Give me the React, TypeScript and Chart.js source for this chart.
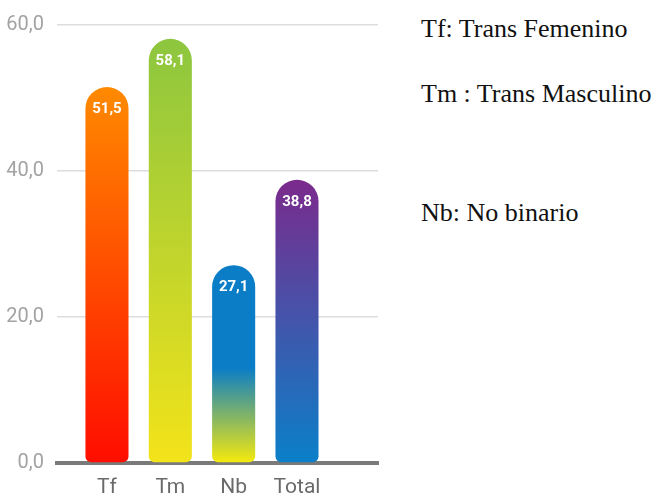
import React, { useEffect, useRef } from "react";
import { Chart, registerables } from "chart.js";

Chart.register(...registerables);

const categories = ["Tf", "Tm", "Nb", "Total"];
const values = [51.5, 58.1, 27.1, 38.8];
const yMin = 0;
const yMax = 60;
const yStep = 20;
const legendLines = ["Tf: Trans Femenino", "Tm : Trans Masculino", "Nb: No binario"];

const barGradients: [number, string][][] = [
  [[0, "#ff8a00"], [1, "#ff0d00"]],
  [[0, "#8cc63f"], [1, "#f3e31a"]],
  [[0, "#0a7dc6"], [0.52, "#0a7dc6"], [1, "#f6ea0c"]],
  [[0, "#7b2a8c"], [1, "#0a80c9"]],
];

const fmt = (v: number) => v.toFixed(1).replace(".", ",");

const valueLabels = {
  id: "valueLabels",
  afterDatasetsDraw(chart: any) {
    const { ctx } = chart;
    const meta = chart.getDatasetMeta(0);
    ctx.save();
    ctx.font = "bold 15px Roboto";
    ctx.fillStyle = "#ffffff";
    ctx.textAlign = "center";
    ctx.textBaseline = "middle";
    meta.data.forEach((el: any, i: number) => {
      ctx.fillText(fmt(values[i]), el.x, el.y + 22);
    });
    ctx.restore();
  },
};

export default function App() {
  const ref = useRef<HTMLCanvasElement | null>(null);

  useEffect(() => {
    if (!ref.current) return;
    const chart = new Chart(ref.current, {
      type: "bar",
      data: {
        datasets: [
          {
            data: values.map((v, i) => ({ x: i, y: v })),
            barPercentage: 0.68,
            categoryPercentage: 1,
            borderSkipped: false,
            borderWidth: 0,
            borderRadius: { topLeft: 22, topRight: 22, bottomLeft: 6, bottomRight: 6 },
            backgroundColor: (c: any) => {
              const stops = barGradients[c.dataIndex] || barGradients[0];
              if (c.type !== "data" || !c.chart.chartArea) return stops[0][1];
              const y = c.chart.scales.y;
              const top = y.getPixelForValue(values[c.dataIndex]);
              const bot = y.getPixelForValue(0);
              const g = c.chart.ctx.createLinearGradient(0, top, 0, bot);
              stops.forEach(([o, col]) => g.addColorStop(o, col));
              return g;
            },
          } as any,
        ],
      },
      options: {
        animation: false,
        responsive: false,
        layout: { padding: { top: 23, right: 22, bottom: 0, left: 0 } },
        plugins: {
          legend: { display: false },
          tooltip: { enabled: false },
        },
        scales: {
          x: {
            type: "linear",
            offset: false,
            min: -0.789,
            max: 4.279,
            grid: { display: false, drawTicks: false, offset: false },
            border: { display: true, color: "#7a7a7a", width: 4 },
            afterBuildTicks: (axis: any) => {
              axis.ticks = categories.map((_, i) => ({ value: i }));
            },
            afterFit: (axis: any) => {
              axis.height = 36;
            },
            ticks: {
              autoSkip: false,
              maxRotation: 0,
              padding: 12,
              color: "#6a6a6a",
              font: { family: "Roboto", size: 21 },
              callback: (v: any) => categories[v] ?? "",
            },
          },
          y: {
            min: yMin,
            max: yMax,
            grid: { color: "#dddddd", lineWidth: 1.5, drawTicks: false },
            border: { display: false },
            afterFit: (axis: any) => {
              axis.width = 57;
            },
            ticks: {
              stepSize: yStep,
              padding: 13,
              color: "#a3a3a3",
              font: { family: "Roboto", size: 20 },
              callback: (v: any) => fmt(Number(v)),
            },
          },
        },
      } as any,
      plugins: [valueLabels],
    });
    return () => chart.destroy();
  }, []);

  const legendTops = [16, 81, 200];

  return (
    <div style={{ position: "absolute", left: 0, top: 0, width: 661, height: 499, background: "#fff", overflow: "hidden" }}>
      <canvas ref={ref} width={400} height={499} style={{ position: "absolute", left: 0, top: 0, width: 400, height: 499 }} />
      {legendLines.map((t, i) => (
        <div
          key={i}
          style={{
            position: "absolute",
            left: 421,
            top: legendTops[i],
            fontFamily: "'Liberation Serif', 'Times New Roman', serif",
            fontSize: 26,
            lineHeight: 1,
            color: "#111",
            whiteSpace: "nowrap",
          }}
        >
          {t}
        </div>
      ))}
    </div>
  );
}
